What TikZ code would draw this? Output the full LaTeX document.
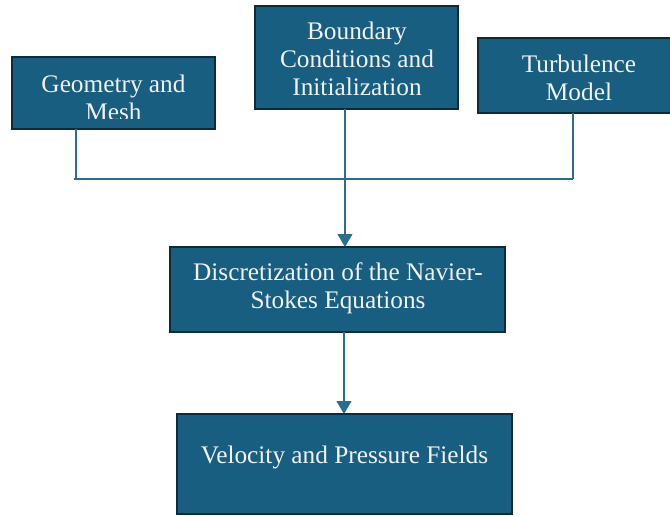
\documentclass[tikz,border=0pt]{standalone}
\usepackage{fontspec}
\setmainfont{Liberation Serif}
\usetikzlibrary{arrows.meta}
\definecolor{boxfill}{HTML}{175E80}
\definecolor{boxedge}{HTML}{0D2B3B}
\definecolor{linkcol}{HTML}{2A6D8C}
\definecolor{txt}{HTML}{F2F2F2}
\tikzset{
  box/.style={draw=boxedge, fill=boxfill, line width=1.8pt, inner sep=0pt, outer sep=0pt},
  boxtext/.style={text=txt, align=center, anchor=base, inner sep=0pt,
    font=\fontsize{25.3}{28}\selectfont},
  link/.style={draw=linkcol, line width=1.1pt},
  arrowlink/.style={link, -{Triangle[width=15pt,length=13pt]}}
}
\begin{document}
\begin{tikzpicture}[x=1pt,y=-1pt]
\useasboundingbox (0,0) rectangle (670,515);
% boxes
\node[box, minimum width=203pt, minimum height=72pt] (geo) at (113.5,93) {};
\node[box, minimum width=203pt, minimum height=103pt] (bnd) at (356.5,57.5) {};
\node[box, minimum width=203pt, minimum height=75pt] (turb) at (579.5,75.5) {};
\node[box, minimum width=335pt, minimum height=85pt] (disc) at (337.5,289.5) {};
\node[box, minimum width=335pt, minimum height=100pt] (vel) at (344.5,464) {};
% texts
\begin{scope}
\clip (12,57) rectangle (215,118.5);
\node[boxtext] (geot) at (113.5,120) {Geometry and\\Mesh};
\end{scope}
\node[boxtext] (bndt) at (357,95) {Boundary\\Conditions and\\Initialization};
\node[boxtext] (turbt) at (579,100) {Turbulence\\Model};
\node[boxtext] (disct) at (338,308) {Discretization of the Navier-\\Stokes Equations};
\node[boxtext] (velt) at (344.5,463) {Velocity and Pressure Fields};
% connectors
\coordinate (jl) at (76,179);
\coordinate (jr) at (573,179);
\coordinate (jle) at (74,179);
\coordinate (bx) at (345,0);
\coordinate (dx) at (344,0);
\draw[link] (jl |- geo.south) -- (jl);
\draw[link] (jr |- turb.south) -- (jr);
\draw[link] (jle) -- (jr);
\draw[arrowlink] (bx |- bnd.south) -- (bx |- disc.north);
\draw[arrowlink] (dx |- disc.south) -- (dx |- vel.north);
\end{tikzpicture}
\end{document}
